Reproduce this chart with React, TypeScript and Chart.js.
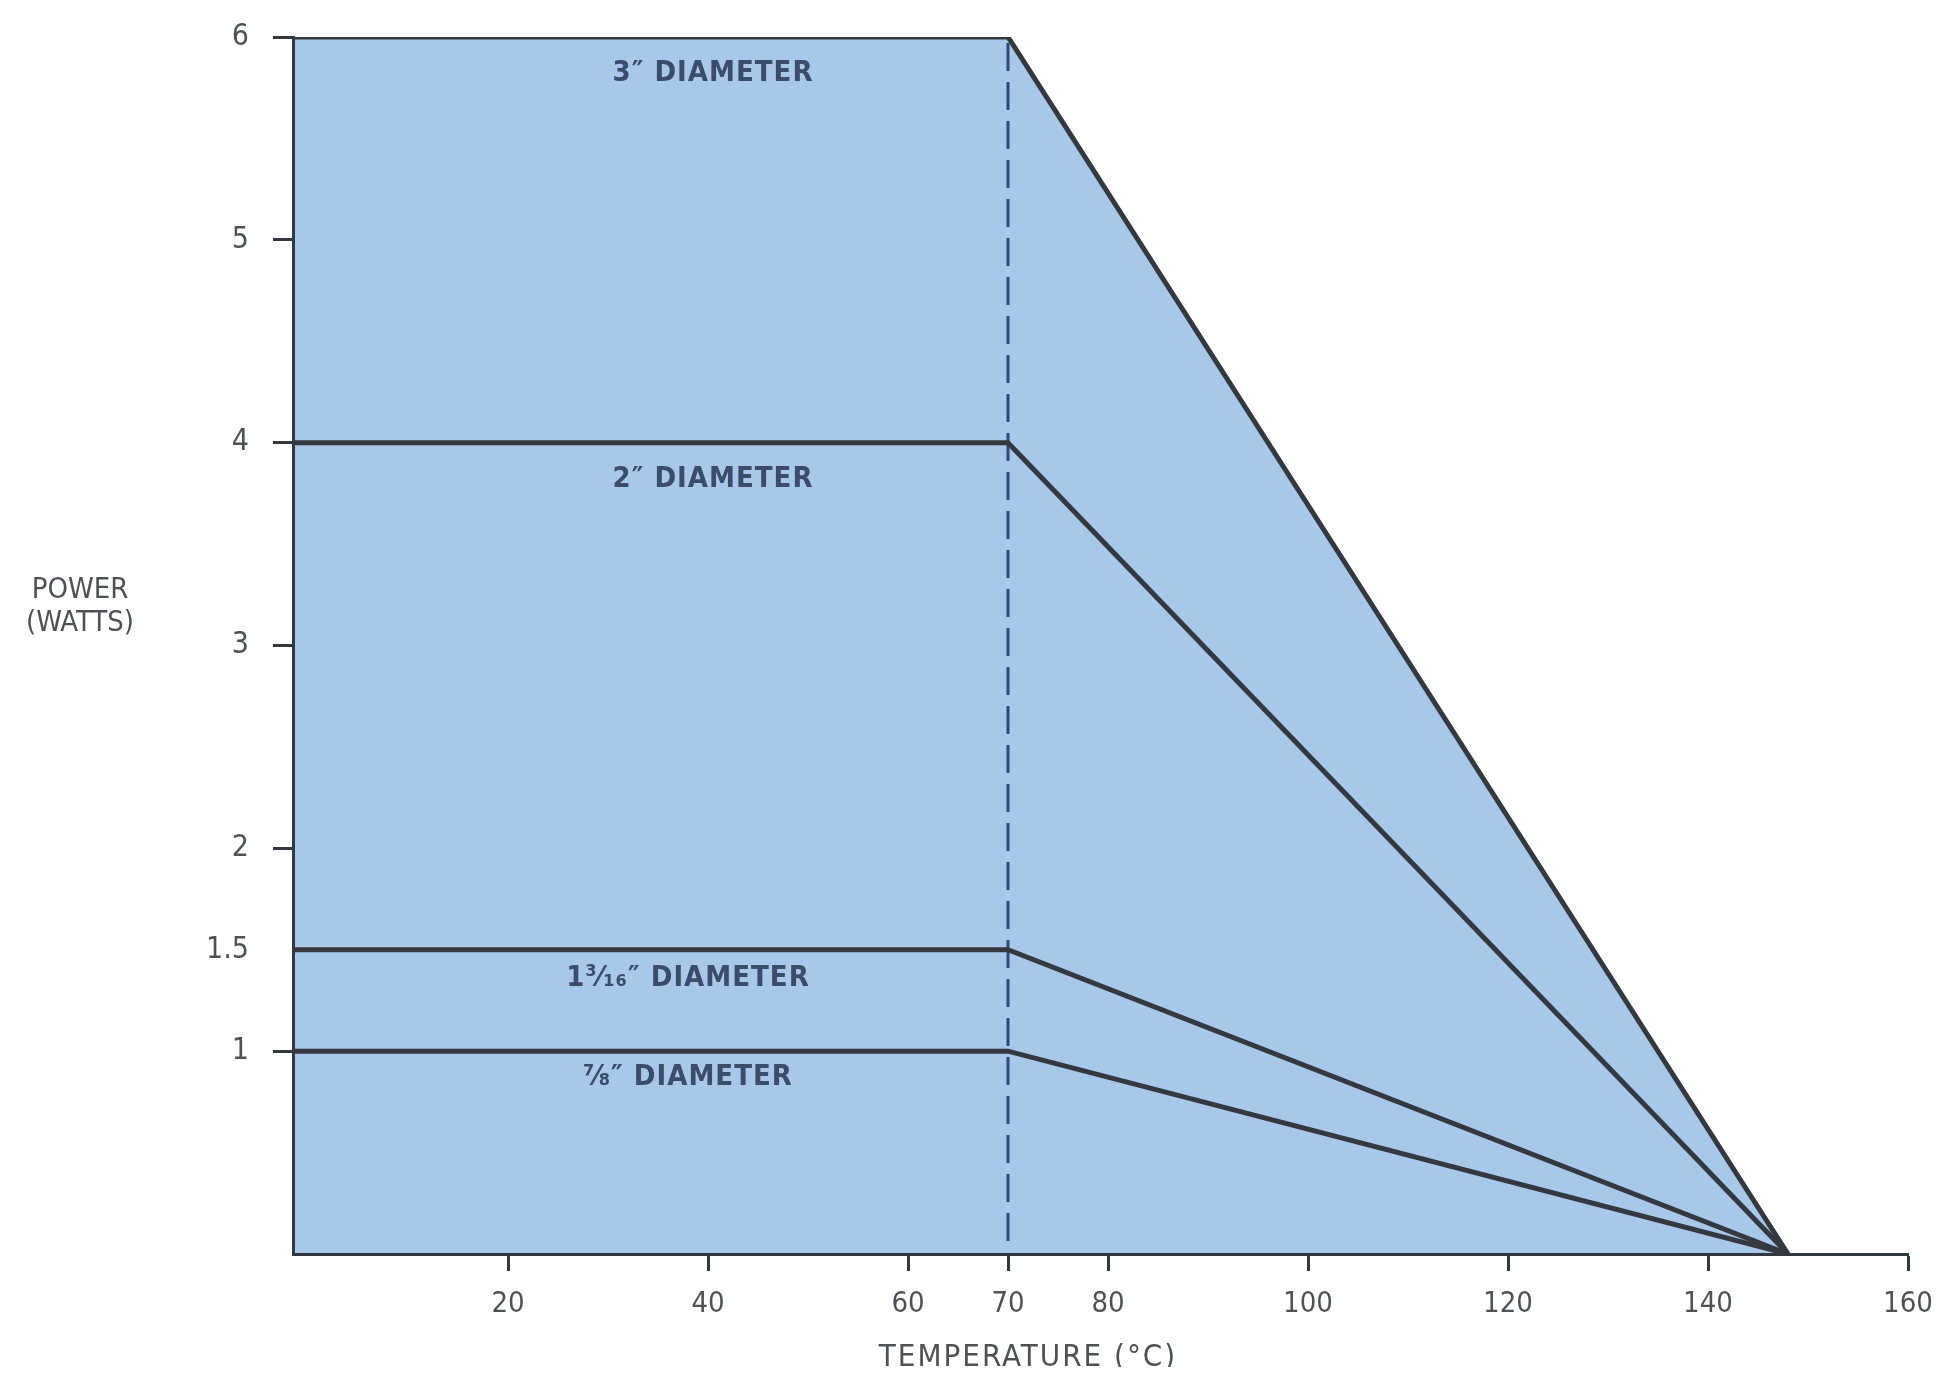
import React, { useEffect, useRef } from "react";
import { Chart, registerables } from "chart.js";

Chart.register(...registerables);

// ---- data ----
const X_MIN = -1.5;
const X_MAX = 160;
const Y_MIN = 0;
const Y_MAX = 6;

const bendTemps = [X_MIN, 70, 148];
const power3in = [6, 6, 0];
const power2in = [4, 4, 0];
const power1_3_16in = [1.5, 1.5, 0];
const power7_8in = [1, 1, 0];

const dashTemps = [70, 70];
const dashPower = [5.97, 0.06];

const xTickValues = [20, 40, 60, 70, 80, 100, 120, 140, 160];
const yTickValues = [1, 1.5, 2, 3, 4, 5, 6];

const curveLabels = ["3″ DIAMETER", "2″ DIAMETER", "1³⁄₁₆″ DIAMETER", "⅞″ DIAMETER"];
const curveLabelX = [40.5, 40.5, 38, 38];
const curveLabelY = [5.82, 3.82, 1.36, 0.87];

const xTitle = "TEMPERATURE (°C)";
const yTitleLines = ["POWER", "(WATTS)"];

const FAMILY = "'Liberation Sans Narrow', 'DejaVu Sans Condensed', 'Liberation Sans', sans-serif";
const LINE_COLOR = "#33393f";
const FILL_COLOR = "#a8c8ea";
const TEXT_GRAY = "#4e5256";
const LABEL_BLUE = "#3c4d6b";

const pts = (xs: number[], ys: number[]) => xs.map((x, i) => ({ x, y: ys[i] }));

const textPlugin = {
  id: "textPlugin",
  afterDraw(chart: any) {
    const { ctx, scales, chartArea } = chart;
    const xs = scales.x;
    const ys = scales.y;
    ctx.save();
    ctx.fillStyle = LABEL_BLUE;
    ctx.font = `bold 29px ${FAMILY}`;
    ctx.textAlign = "center";
    ctx.textBaseline = "middle";
    try { (ctx as any).letterSpacing = "1px"; } catch (e) {}
    curveLabels.forEach((t, i) => {
      ctx.fillText(t, xs.getPixelForValue(curveLabelX[i]), ys.getPixelForValue(curveLabelY[i]));
    });
    try { (ctx as any).letterSpacing = "0px"; } catch (e) {}
    ctx.fillStyle = TEXT_GRAY;
    ctx.font = `29px ${FAMILY}`;
    ctx.fillText(yTitleLines[0], chartArea.left - 213, ys.getPixelForValue(3.27));
    ctx.fillText(yTitleLines[1], chartArea.left - 213, ys.getPixelForValue(3.11));
    ctx.font = `31px ${FAMILY}`;
    ctx.textBaseline = "alphabetic";
    try { (ctx as any).letterSpacing = "2px"; } catch (e) {}
    ctx.fillText(xTitle, xs.getPixelForValue(72), chart.height - 1);
    ctx.restore();
  },
};

export default function App() {
  const ref = useRef<HTMLCanvasElement | null>(null);
  useEffect(() => {
    if (!ref.current) return;
    const lineDs = (label: string, ys: number[], extra: any = {}) => ({
      label,
      data: pts(bendTemps, ys),
      borderColor: LINE_COLOR,
      borderWidth: 5,
      pointRadius: 0,
      fill: false,
      tension: 0,
      borderJoinStyle: "miter",
      ...extra,
    });
    const chart = new Chart(ref.current, {
      type: "line",
      data: {
        datasets: [
          lineDs("3in", power3in, { fill: "origin", backgroundColor: FILL_COLOR, order: 5 }),
          {
            label: "dash",
            data: pts(dashTemps, dashPower),
            borderColor: "#2c4a78",
            borderWidth: 3,
            borderDash: [28, 11],
            pointRadius: 0,
            fill: false,
            order: 4,
          },
          lineDs("2in", power2in, { order: 3 }),
          lineDs("1-3/16in", power1_3_16in, { order: 2 }),
          lineDs("7/8in", power7_8in, { order: 1 }),
        ] as any,
      },
      options: {
        animation: false,
        responsive: false,
        maintainAspectRatio: false,
        layout: { padding: { top: 29, right: 25, left: 0, bottom: 0 } },
        plugins: {
          legend: { display: false },
          tooltip: { enabled: false },
          filler: { drawTime: "beforeDatasetsDraw" } as any,
        },
        scales: {
          x: {
            type: "linear",
            min: X_MIN,
            max: X_MAX,
            afterBuildTicks: (s: any) => {
              s.ticks = xTickValues.map((v) => ({ value: v }));
            },
            afterFit: (s: any) => {
              s.height = 113;
              s.paddingLeft = 0;
              s.paddingRight = 0;
            },
            grid: {
              display: true,
              drawOnChartArea: false,
              drawTicks: true,
              tickLength: 17,
              tickWidth: 3,
              tickColor: LINE_COLOR,
              z: 1,
            },
            border: { display: true, color: LINE_COLOR, width: 3, z: 1 },
            ticks: {
              color: TEXT_GRAY,
              padding: 16,
              maxRotation: 0,
              autoSkip: false,
              font: { family: FAMILY, size: 29 },
              callback: (v: any) => String(v),
            },
          },
          y: {
            type: "linear",
            min: Y_MIN,
            max: Y_MAX,
            afterBuildTicks: (s: any) => {
              s.ticks = yTickValues.map((v) => ({ value: v }));
            },
            afterFit: (s: any) => {
              s.width = 285;
              s.paddingTop = 0;
              s.paddingBottom = 0;
            },
            grid: {
              display: true,
              drawOnChartArea: false,
              drawTicks: true,
              tickLength: 20,
              tickWidth: 3,
              tickColor: (c: any) => (c.tick && c.tick.value === 1.5 ? "rgba(0,0,0,0)" : LINE_COLOR),
              z: 1,
            },
            border: { display: true, color: LINE_COLOR, width: 3, z: 1 },
            ticks: {
              color: TEXT_GRAY,
              padding: 24,
              autoSkip: false,
              font: { family: FAMILY, size: 30 },
              callback: (v: any) => String(v),
            },
          },
        },
      } as any,
      plugins: [textPlugin],
    });
    return () => chart.destroy();
  }, []);
  return (
    <canvas
      ref={ref}
      width={1925}
      height={1359}
      style={{ display: "block", width: "1925px", height: "1359px" }}
    />
  );
}
